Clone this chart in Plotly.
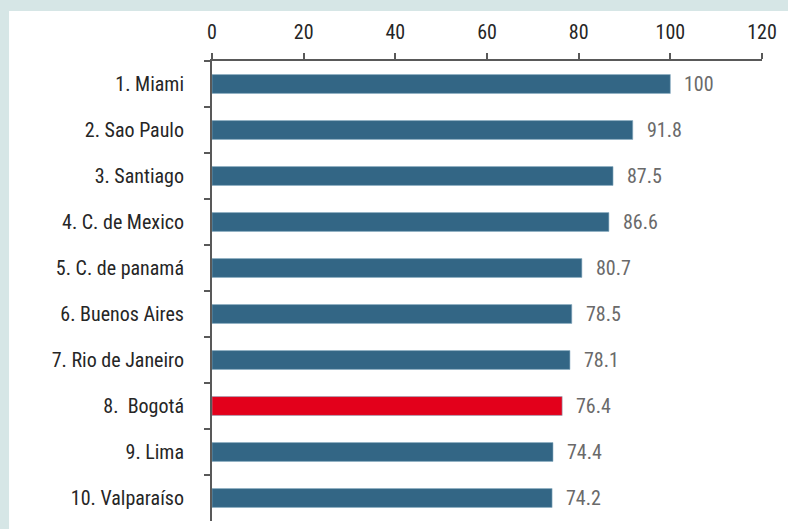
import plotly.graph_objects as go

cities = ["1. Miami", "2. Sao Paulo", "3. Santiago", "4. C. de Mexico", "5. C. de panamá",
          "6. Buenos Aires", "7. Rio de Janeiro", "8.  Bogotá", "9. Lima", "10. Valparaíso"]
values = [100, 91.8, 87.5, 86.6, 80.7, 78.5, 78.1, 76.4, 74.4, 74.2]
value_labels = ["100", "91.8", "87.5", "86.6", "80.7", "78.5", "78.1", "76.4", "74.4", "74.2"]
highlight = "8.  Bogotá"
x_ticks = [0, 20, 40, 60, 80, 100, 120]

BLUE = "#336685"
RED = "#e3001b"
AXIS = "#595959"
FONT = "Roboto Condensed, Liberation Sans Narrow, Arial Narrow, Liberation Sans, Arial, sans-serif"

colors = [RED if c == highlight else BLUE for c in cities]

fig = go.Figure()
fig.add_trace(go.Bar(
    x=values, y=cities, orientation="h",
    marker=dict(color=colors, line=dict(color="#8fb0c4", width=0.6)),
    width=0.41, hoverinfo="skip",
))

for c, v, t in zip(cities, values, value_labels):
    fig.add_annotation(x=v, y=c, text=t, showarrow=False, xanchor="left",
                       xshift=12, font=dict(family=FONT, size=20, color="#6a6a6a", weight=400))

fig.add_shape(type="rect", xref="paper", yref="paper",
              x0=-0.369, x1=1.05, y0=-0.03, y1=1.1087,
              fillcolor="white", line=dict(width=0), layer="below")

fig.update_layout(
    width=788, height=529,
    margin=dict(l=212, r=26, t=61, b=8),
    paper_bgcolor="#d6e6e6",
    plot_bgcolor="white",
    showlegend=False,
    font=dict(family=FONT, size=20, color="#262626", weight=400),
    xaxis=dict(side="top", range=[0, 120], tickvals=x_ticks, ticktext=[str(v) for v in x_ticks],
               ticks="outside", ticklen=6, tickwidth=2, tickcolor=AXIS,
               showline=True, linecolor=AXIS, linewidth=2, showgrid=False, zeroline=False,
               ticklabelstandoff=6),
    yaxis=dict(type="category", categoryorder="array", categoryarray=cities,
               autorange="reversed", tickson="boundaries",
               ticks="outside", ticklen=6, tickwidth=2, tickcolor=AXIS,
               showline=True, linecolor=AXIS, linewidth=2, showgrid=False,
               ticklabelstandoff=22),
)

fig.write_html("out.html", config={"displayModeBar": False},
               post_script="document.body.style.margin='0';document.body.style.padding='0';")
